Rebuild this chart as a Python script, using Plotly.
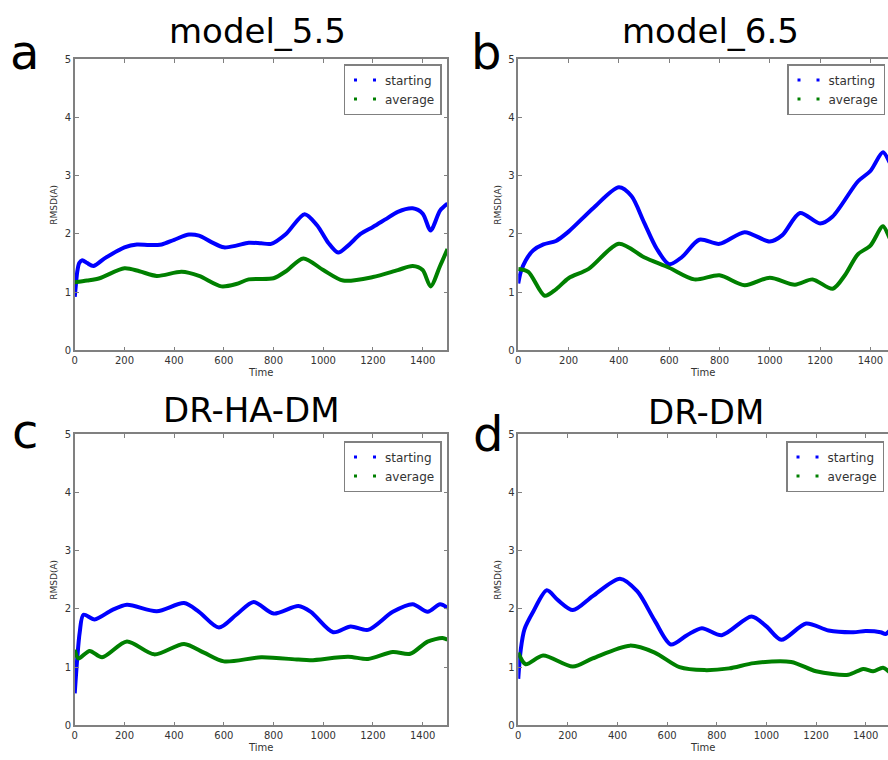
import plotly.graph_objects as go

# ---------------- data ----------------
a_start_t = [0, 5, 10, 18, 30, 50, 75, 120, 200, 250, 300, 350, 400, 460, 500, 550, 600, 650, 700, 750, 790, 850, 925, 975, 1020, 1060, 1100, 1150, 1200, 1250, 1300, 1360, 1400, 1432, 1470, 1500]
a_start_v = [0.92, 1.15, 1.35, 1.5, 1.55, 1.5, 1.45, 1.58, 1.77, 1.82, 1.81, 1.82, 1.9, 1.99, 1.97, 1.86, 1.77, 1.8, 1.85, 1.84, 1.83, 2.0, 2.34, 2.15, 1.85, 1.68, 1.8, 2.0, 2.12, 2.25, 2.38, 2.44, 2.35, 2.06, 2.4, 2.52]
a_avg_t = [0, 50, 100, 200, 260, 330, 430, 500, 590, 650, 700, 800, 850, 920, 1000, 1080, 1200, 1300, 1360, 1400, 1432, 1470, 1500]
a_avg_v = [1.17, 1.2, 1.24, 1.41, 1.36, 1.28, 1.35, 1.28, 1.1, 1.14, 1.22, 1.24, 1.36, 1.58, 1.38, 1.2, 1.26, 1.38, 1.45, 1.38, 1.1, 1.45, 1.74]

b_start_t = [0, 10, 30, 60, 100, 150, 200, 300, 400, 450, 500, 550, 600, 650, 720, 800, 900, 1000, 1050, 1120, 1200, 1250, 1350, 1400, 1450, 1480, 1500]
b_start_v = [1.15, 1.35, 1.55, 1.72, 1.82, 1.88, 2.04, 2.45, 2.8, 2.65, 2.2, 1.75, 1.48, 1.6, 1.9, 1.83, 2.03, 1.87, 1.98, 2.36, 2.18, 2.3, 2.9, 3.08, 3.4, 3.2, 3.05]
b_avg_t = [0, 40, 105, 150, 200, 280, 400, 500, 600, 700, 800, 900, 1000, 1100, 1170, 1250, 1300, 1350, 1400, 1450, 1480, 1500]
b_avg_v = [1.4, 1.35, 0.94, 1.05, 1.24, 1.4, 1.83, 1.6, 1.42, 1.22, 1.29, 1.12, 1.25, 1.13, 1.22, 1.06, 1.3, 1.65, 1.8, 2.13, 1.9, 1.8]

c_start_t = [0, 10, 20, 35, 80, 150, 210, 330, 440, 500, 580, 650, 720, 800, 900, 950, 1040, 1110, 1180, 1280, 1360, 1420, 1470, 1500]
c_start_v = [0.55, 1.15, 1.6, 1.9, 1.82, 1.98, 2.07, 1.96, 2.1, 1.95, 1.68, 1.9, 2.12, 1.92, 2.05, 1.95, 1.6, 1.7, 1.64, 1.95, 2.08, 1.95, 2.08, 2.02]
c_avg_t = [0, 15, 60, 110, 210, 320, 440, 520, 600, 750, 900, 950, 1100, 1180, 1280, 1350, 1420, 1480, 1500]
c_avg_v = [1.3, 1.15, 1.28, 1.17, 1.44, 1.22, 1.4, 1.25, 1.1, 1.17, 1.13, 1.12, 1.18, 1.14, 1.26, 1.23, 1.44, 1.5, 1.47]

d_start_t = [0, 10, 25, 60, 115, 160, 220, 300, 410, 480, 550, 615, 680, 740, 820, 940, 1000, 1060, 1160, 1250, 1350, 1400, 1460, 1480, 1500]
d_start_v = [0.8, 1.3, 1.65, 1.95, 2.32, 2.15, 1.98, 2.22, 2.52, 2.3, 1.8, 1.39, 1.55, 1.67, 1.55, 1.87, 1.7, 1.47, 1.75, 1.63, 1.6, 1.62, 1.6, 1.57, 1.64]
d_avg_t = [0, 30, 100, 220, 300, 450, 550, 650, 750, 850, 950, 1100, 1200, 1330, 1390, 1430, 1470, 1500]
d_avg_v = [1.25, 1.05, 1.2, 1.01, 1.15, 1.37, 1.25, 1.0, 0.95, 0.98, 1.07, 1.09, 0.93, 0.87, 0.97, 0.93, 0.99, 0.9]

titles = ["model_5.5", "model_6.5", "DR-HA-DM", "DR-DM"]
letters = ["a", "b", "c", "d"]
series_names = ["starting", "average"]
x_ticks = [0, 200, 400, 600, 800, 1000, 1200, 1400]
y_ticks = [0, 1, 2, 3, 4, 5]

W, H = 888, 760
BLUE = "#0000ff"
GREEN = "#008000"
FRAME = "#808080"
TXT = "#333333"

panels = [
    dict(t=[a_start_t, a_avg_t], v=[a_start_v, a_avg_v], px=(72, 446), py=(54, 350), xmax=1500, right=True),
    dict(t=[b_start_t, b_avg_t], v=[b_start_v, b_avg_v], px=(517, 888), py=(54, 350), xmax=1470, right=False),
    dict(t=[c_start_t, c_avg_t], v=[c_start_v, c_avg_v], px=(72, 446), py=(435, 731), xmax=1500, right=True),
    dict(t=[d_start_t, d_avg_t], v=[d_start_v, d_avg_v], px=(517, 888), py=(435, 731), xmax=1490, right=False),
]
title_pos = [(255, 25), (710, 25), (249, 410), (705, 413)]
letter_pos = [(22, 47), (485, 47), (22, 432), (487, 435)]
legend_pos = [(440, 59), (885, 59), (440, 442), (884, 442)]

fig = go.Figure()
layout = dict(width=W, height=H, margin=dict(l=0, r=0, t=0, b=0),
              paper_bgcolor="white", plot_bgcolor="white", showlegend=True)
annotations = []

for i, p in enumerate(panels):
    n = "" if i == 0 else str(i + 1)
    xa, ya = "x" + n, "y" + n
    lg = "legend" + n
    colors = [BLUE, GREEN]
    for k in range(2):
        fig.add_trace(go.Scatter(x=p["t"][k], y=p["v"][k], mode="lines",
                                 line=dict(color=colors[k], width=4, shape="spline", smoothing=0.8),
                                 xaxis=xa, yaxis=ya, showlegend=False, hoverinfo="skip"))
    for k in range(2):
        # legend-only entry drawn as two dots (matplotlib style '.' marker legend)
        fig.add_trace(go.Scatter(x=[None], y=[None], mode="lines", name=series_names[k],
                                 line=dict(color=colors[k], width=3, dash="0px,4px,3px,12px"),
                                 xaxis=xa, yaxis=ya, legend=lg, showlegend=True))
    x0, x1 = p["px"]
    y0, y1 = p["py"]
    layout["xaxis" + n] = dict(domain=[x0 / W, x1 / W], anchor=ya, range=[0, p["xmax"]],
                               tickvals=x_ticks, ticks="inside", ticklen=4, tickcolor=FRAME,
                               showline=True, linecolor=FRAME, linewidth=1.5, mirror="ticks",
                               showgrid=False, zeroline=False,
                               tickfont=dict(family="DejaVu Sans", size=10, color=TXT),
                               title=dict(text="Time", font=dict(family="DejaVu Sans", size=10, color=TXT), standoff=4))
    layout["yaxis" + n] = dict(domain=[1 - y1 / H, 1 - y0 / H], anchor=xa, range=[0, 5],
                               tickvals=y_ticks, ticks="inside", ticklen=4, tickcolor=FRAME,
                               showline=True, linecolor=FRAME, linewidth=1.5,
                               mirror="ticks" if p["right"] else False,
                               showgrid=False, zeroline=False,
                               tickfont=dict(family="DejaVu Sans", size=10, color=TXT),
                               title=dict(text="RMSD(A)", font=dict(family="DejaVu Sans", size=9, color=TXT), standoff=5))
    lx, ly = legend_pos[i]
    layout[lg] = dict(x=lx / W, y=1 - ly / H, xanchor="right", yanchor="top",
                      bgcolor="white", bordercolor=FRAME, borderwidth=1.5,
                      font=dict(family="DejaVu Sans", size=12, color=TXT),
                      itemwidth=30, tracegroupgap=0)
    tx, ty = title_pos[i]
    annotations.append(dict(text=titles[i], x=tx / W, y=1 - ty / H, xref="paper", yref="paper",
                            showarrow=False, xanchor="center", yanchor="middle",
                            font=dict(family="DejaVu Sans", size=34, color="black")))
    lx2, ly2 = letter_pos[i]
    annotations.append(dict(text=letters[i], x=lx2 / W, y=1 - ly2 / H, xref="paper", yref="paper",
                            showarrow=False, xanchor="center", yanchor="middle",
                            font=dict(family="DejaVu Sans", size=48, color="black")))

layout["annotations"] = annotations
fig.update_layout(**layout)
fig.write_html("out.html", config={"displayModeBar": False},
               post_script="document.body.style.margin='0';document.body.style.overflow='hidden';")
